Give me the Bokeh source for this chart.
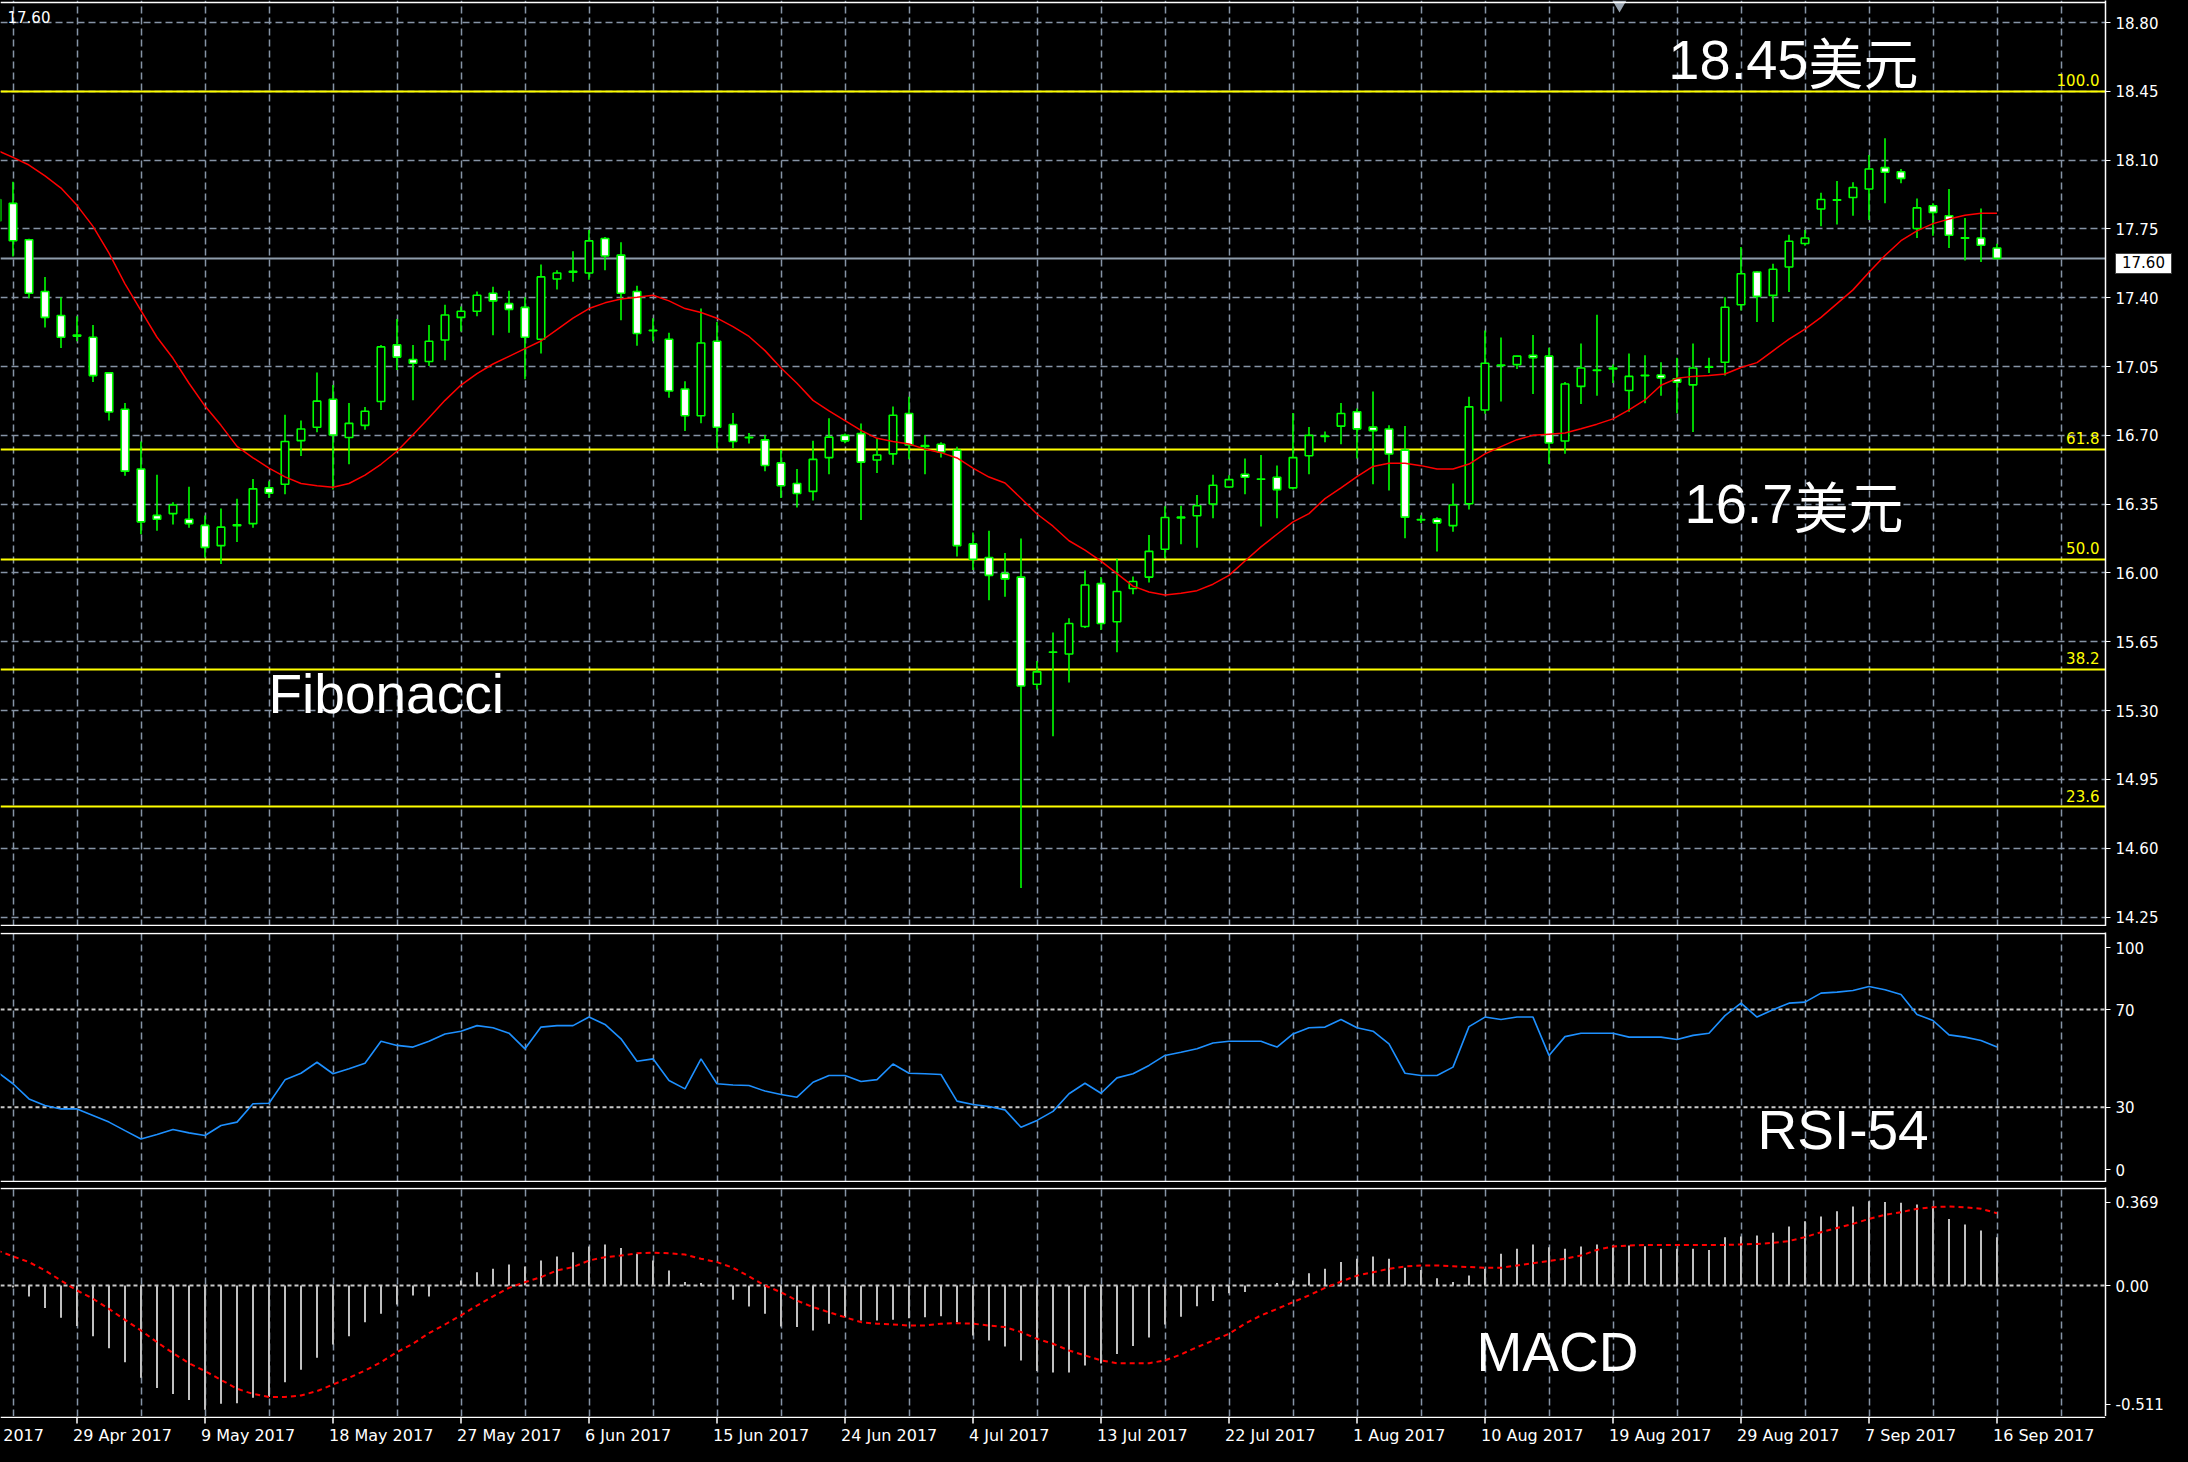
from bokeh.plotting import figure
from bokeh.layouts import column
from bokeh.models import (Range1d, FixedTicker, Grid, Span, Div,
                          PrintfTickFormatter, ColumnDataSource)
from bokeh.core.properties import value
from bokeh.embed import file_html
from bokeh.resources import INLINE

# ---------------- data (daily bars, XAG/USD) ----------------
opens = [17.79, 17.88, 17.695, 17.432, 17.31, 17.21, 17.199, 17.018, 16.833, 16.529,
         16.293, 16.302, 16.273, 16.242, 16.139, 16.24, 16.251, 16.433, 16.451, 16.673,
         16.741, 16.884, 16.689, 16.751, 16.872, 17.16, 17.086, 17.076, 17.185, 17.30,
         17.331, 17.423, 17.37, 17.351, 17.189, 17.495, 17.53, 17.526, 17.701, 17.617,
         17.432, 17.235, 17.189, 16.936, 16.80, 17.179, 16.755, 16.69, 16.677, 16.56,
         16.455, 16.415, 16.587, 16.70, 16.709, 16.575, 16.606, 16.811, 16.648, 16.655,
         16.624, 16.148, 16.079, 15.997, 15.979, 15.434, 15.597, 15.588, 15.728, 15.946,
         15.752, 15.921, 15.979, 16.121, 16.28, 16.291, 16.351, 16.437, 16.502, 16.477,
         16.487, 16.433, 16.596, 16.695, 16.747, 16.82, 16.742, 16.732, 16.625, 16.27,
         16.274, 16.241, 16.352, 16.829, 17.056, 17.06, 17.107, 17.103, 16.671, 16.949,
         17.03, 17.038, 16.928, 17.004, 17.007, 16.988, 16.957, 17.047, 17.072, 17.364,
         17.531, 17.412, 17.556, 17.676, 17.851, 17.896, 17.91, 17.953, 18.062, 18.041,
         17.752, 17.868, 17.817, 17.705, 17.704, 17.653]
highs = [17.95, 17.99, 17.70, 17.506, 17.403, 17.306, 17.261, 17.02, 16.864, 16.669,
         16.50, 16.36, 16.438, 16.293, 16.328, 16.378, 16.478, 16.466, 16.805, 16.775,
         17.02, 16.956, 16.864, 16.844, 17.16, 17.292, 17.16, 17.261, 17.364, 17.355,
         17.432, 17.456, 17.436, 17.403, 17.569, 17.54, 17.637, 17.744, 17.709, 17.682,
         17.461, 17.296, 17.222, 16.975, 17.345, 17.277, 16.814, 16.712, 16.702, 16.625,
         16.529, 16.673, 16.787, 16.71, 16.76, 16.687, 16.847, 16.896, 16.70, 16.665,
         16.642, 16.206, 16.215, 16.102, 16.175, 15.552, 15.697, 15.77, 16.012, 15.979,
         16.073, 15.982, 16.193, 16.339, 16.342, 16.397, 16.50, 16.497, 16.582, 16.60,
         16.547, 16.814, 16.742, 16.72, 16.865, 16.836, 16.923, 16.751, 16.747, 16.294,
         16.284, 16.455, 16.897, 17.234, 17.198, 17.105, 17.21, 17.146, 16.971, 17.167,
         17.313, 17.06, 17.117, 17.107, 17.072, 17.095, 17.167, 17.095, 17.403, 17.658,
         17.535, 17.573, 17.721, 17.744, 17.934, 17.994, 17.987, 18.126, 18.211, 18.055,
         17.905, 17.88, 17.953, 17.806, 17.854, 17.675]
lows = [17.70, 17.61, 17.397, 17.248, 17.144, 17.179, 16.971, 16.776, 16.494, 16.197,
        16.215, 16.246, 16.23, 16.079, 16.046, 16.157, 16.23, 16.382, 16.40, 16.595,
        16.716, 16.424, 16.553, 16.728, 16.829, 17.033, 16.878, 17.053, 17.082, 17.228,
        17.306, 17.209, 17.222, 16.985, 17.117, 17.442, 17.481, 17.491, 17.54, 17.286,
        17.156, 17.179, 16.891, 16.722, 16.761, 16.634, 16.634, 16.658, 16.517, 16.382,
        16.333, 16.369, 16.502, 16.66, 16.269, 16.509, 16.551, 16.578, 16.502, 16.587,
        16.084, 16.015, 15.861, 15.879, 14.398, 15.407, 15.17, 15.443, 15.72, 15.71,
        15.597, 15.892, 15.952, 16.075, 16.146, 16.128, 16.279, 16.433, 16.40, 16.237,
        16.279, 16.424, 16.502, 16.665, 16.655, 16.582, 16.451, 16.42, 16.177, 16.254,
        16.109, 16.21, 16.323, 16.81, 16.872, 17.038, 16.911, 16.554, 16.606, 16.86,
        16.902, 16.966, 16.82, 16.863, 16.902, 16.812, 16.717, 17.017, 17.004, 17.335,
        17.276, 17.276, 17.429, 17.664, 17.764, 17.772, 17.817, 17.795, 17.88, 17.982,
        17.704, 17.715, 17.653, 17.59, 17.582, 17.60]
closes = [17.90, 17.69, 17.423, 17.30, 17.199, 17.205, 17.004, 16.819, 16.518, 16.26,
          16.273, 16.346, 16.251, 16.13, 16.233, 16.245, 16.428, 16.406, 16.669, 16.732,
          16.874, 16.702, 16.761, 16.823, 17.15, 17.098, 17.067, 17.179, 17.312, 17.331,
          17.413, 17.384, 17.341, 17.199, 17.506, 17.526, 17.535, 17.689, 17.612, 17.423,
          17.218, 17.232, 16.926, 16.80, 17.17, 16.741, 16.669, 16.688, 16.547, 16.444,
          16.404, 16.578, 16.691, 16.672, 16.564, 16.60, 16.802, 16.651, 16.644, 16.615,
          16.139, 16.07, 15.988, 15.97, 15.425, 15.497, 15.598, 15.743, 15.939, 15.743,
          15.906, 15.957, 16.11, 16.282, 16.284, 16.342, 16.446, 16.475, 16.487, 16.478,
          16.424, 16.587, 16.70, 16.697, 16.811, 16.733, 16.724, 16.605, 16.284, 16.272,
          16.255, 16.346, 16.845, 17.067, 17.058, 17.103, 17.095, 16.661, 16.961, 17.043,
          17.032, 17.042, 17.00, 17.006, 16.992, 16.971, 17.043, 17.049, 17.352, 17.522,
          17.407, 17.545, 17.687, 17.704, 17.90, 17.898, 17.961, 18.055, 18.038, 18.007,
          17.857, 17.834, 17.718, 17.703, 17.667, 17.60]
ma_line = [18.15, 18.114, 18.075, 18.02, 17.958, 17.87, 17.763, 17.627, 17.471, 17.335,
           17.199, 17.092, 16.965, 16.849, 16.751, 16.644, 16.586, 16.533, 16.489, 16.455,
           16.444, 16.436, 16.455, 16.498, 16.553, 16.619, 16.703, 16.79, 16.878, 16.956,
           17.014, 17.063, 17.102, 17.141, 17.18, 17.238, 17.296, 17.345, 17.374, 17.394,
           17.403, 17.413, 17.384, 17.345, 17.325, 17.296, 17.253, 17.203, 17.131, 17.043,
           16.965, 16.878, 16.825, 16.775, 16.725, 16.685, 16.669, 16.656, 16.63, 16.612,
           16.585, 16.533, 16.488, 16.458, 16.38, 16.30, 16.238, 16.164, 16.116, 16.06,
           15.997, 15.933, 15.903, 15.888, 15.897, 15.91, 15.943, 15.988, 16.061, 16.133,
           16.197, 16.26, 16.302, 16.378, 16.433, 16.49, 16.542, 16.558, 16.558, 16.546,
           16.529, 16.529, 16.554, 16.606, 16.643, 16.678, 16.70, 16.706, 16.712, 16.734,
           16.757, 16.784, 16.83, 16.88, 16.955, 16.99, 17.00, 17.005, 17.012, 17.045,
           17.07, 17.13, 17.19, 17.24, 17.30, 17.37, 17.44, 17.53, 17.615, 17.69,
           17.74, 17.777, 17.80, 17.82, 17.83, 17.83]
rsi = [44.5, 39.6, 33.4, 30.7, 29.3, 29.3, 26.6, 23.9, 20.4, 17.0,
       18.8, 20.9, 19.5, 18.4, 22.5, 23.9, 31.4, 31.6, 41.2, 43.9,
       48.4, 43.7, 45.7, 48.0, 57.0, 55.3, 54.6, 57.0, 60.0, 61.1,
       63.4, 62.5, 60.3, 53.9, 62.8, 63.4, 63.4, 66.9, 63.9, 58.0,
       48.8, 49.8, 40.9, 37.5, 49.8, 39.6, 39.1, 38.9, 36.6, 35.2,
       34.1, 40.2, 43.0, 43.0, 40.5, 41.3, 47.7, 43.9, 43.7, 43.4,
       32.5, 31.1, 30.3, 28.9, 21.8, 24.6, 28.3, 35.5, 39.8, 35.7,
       42.0, 43.7, 47.1, 51.2, 52.5, 53.9, 56.3, 57.0, 57.0, 57.0,
       54.6, 60.0, 62.5, 62.8, 65.9, 62.5, 61.1, 55.9, 43.9, 43.0,
       43.0, 46.4, 63.0, 66.9, 65.9, 66.9, 66.9, 51.2, 58.9, 60.3,
       60.3, 60.3, 58.7, 58.7, 58.7, 57.7, 59.4, 60.3, 67.5, 72.6,
       66.9, 69.9, 72.6, 73.0, 76.7, 77.1, 77.8, 79.4, 78.1, 76.1,
       68.0, 65.5, 59.6, 58.7, 57.3, 54.6]
macd_hist = [0.005, -0.008, -0.042, -0.087, -0.124, -0.156, -0.195, -0.241, -0.295, -0.355,
             -0.394, -0.417, -0.44, -0.478, -0.455, -0.453, -0.432, -0.429, -0.372, -0.324,
             -0.278, -0.227, -0.195, -0.141, -0.109, -0.073, -0.038, -0.042, -0.003, 0.019,
             0.051, 0.064, 0.081, 0.073, 0.096, 0.112, 0.128, 0.15, 0.158, 0.144,
             0.122, 0.096, 0.058, 0.013, 0.01, -0.003, -0.055, -0.081, -0.109, -0.158,
             -0.16, -0.173, -0.147, -0.122, -0.135, -0.135, -0.132, -0.126, -0.122, -0.118,
             -0.141, -0.192, -0.212, -0.235, -0.288, -0.329, -0.335, -0.335, -0.308, -0.30,
             -0.263, -0.233, -0.20, -0.15, -0.12, -0.08, -0.06, -0.03, -0.025, 0.0,
             0.01, 0.019, 0.047, 0.064, 0.09, 0.103, 0.112, 0.103, 0.068, 0.06,
             0.028, 0.013, 0.038, 0.064, 0.122, 0.141, 0.158, 0.147, 0.141, 0.15,
             0.158, 0.154, 0.154, 0.151, 0.141, 0.141, 0.141, 0.137, 0.186, 0.188,
             0.192, 0.203, 0.227, 0.247, 0.265, 0.286, 0.304, 0.324, 0.321, 0.318,
             0.312, 0.304, 0.256, 0.235, 0.212, 0.186]
macd_signal = [0.135, 0.112, 0.09, 0.058, 0.019, -0.019, -0.051, -0.09, -0.132, -0.173,
               -0.218, -0.26, -0.299, -0.329, -0.363, -0.397, -0.417, -0.429, -0.429, -0.423,
               -0.406, -0.381, -0.355, -0.327, -0.295, -0.256, -0.224, -0.183, -0.15, -0.115,
               -0.077, -0.042, -0.009, 0.013, 0.032, 0.058, 0.071, 0.096, 0.109, 0.115,
               0.124, 0.126, 0.124, 0.119, 0.103, 0.09, 0.068, 0.035, 0.0, -0.026,
               -0.058, -0.083, -0.103, -0.122, -0.141, -0.147, -0.15, -0.154, -0.154, -0.147,
               -0.145, -0.147, -0.154, -0.16, -0.179, -0.205, -0.224, -0.25, -0.269, -0.288,
               -0.299, -0.299, -0.299, -0.288, -0.265, -0.237, -0.212, -0.186, -0.147, -0.115,
               -0.09, -0.064, -0.038, -0.009, 0.015, 0.038, 0.051, 0.064, 0.073, 0.077,
               0.077, 0.074, 0.071, 0.068, 0.068, 0.077, 0.086, 0.094, 0.103, 0.115,
               0.137, 0.15, 0.154, 0.156, 0.156, 0.156, 0.156, 0.156, 0.156, 0.158,
               0.16, 0.164, 0.171, 0.186, 0.205, 0.221, 0.237, 0.256, 0.272, 0.282,
               0.295, 0.301, 0.304, 0.301, 0.295, 0.278]

price_ticks = [18.80, 18.45, 18.10, 17.75, 17.40, 17.05, 16.70, 16.35,
               16.00, 15.65, 15.30, 14.95, 14.60, 14.25]
fib_levels = ["100.0", "61.8", "50.0", "38.2", "23.6"]
fib_prices = [18.45, 16.63, 16.07, 15.51, 14.81]
last_price = 17.60
rsi_levels = [70, 30]
rsi_axis_labels = ["100", "70", "30", "0"]
macd_axis_labels = ["0.369", "0.00", "-0.511"]
date_bars = [-3, 5, 13, 21, 29, 37, 45, 53, 61, 69, 77, 85, 93, 101, 109, 117, 125]
date_labels = ["20 Apr 2017", "29 Apr 2017", "9 May 2017", "18 May 2017", "27 May 2017",
               "6 Jun 2017", "15 Jun 2017", "24 Jun 2017", "4 Jul 2017", "13 Jul 2017",
               "22 Jul 2017", "1 Aug 2017", "10 Aug 2017", "19 Aug 2017", "29 Aug 2017",
               "7 Sep 2017", "16 Sep 2017"]

# ---------------- geometry / styling ----------------
N = len(opens)
bars = list(range(N))
BAR_PX = 16.0
TOTAL_W = 2188
RIGHT_W = 83
FRAME_W = TOTAL_W - RIGHT_W
X0 = 3.5 / BAR_PX
X_END = X0 + FRAME_W / BAR_PX
xr = Range1d(X0, X_END)

MAIN_PX = 196.6     # px per 1.0 price
RSI_PX = 2.4425     # px per RSI point
MACD_PX = 260.0     # px per 1.0 MACD
BASE_FIX = 0.42     # alphabetic-baseline correction (fraction of font size)

def ref_x(px):
    return (px + 3.5) / BAR_PX

def main_y(py):
    return 18.80 - (py - 22) / MAIN_PX

def rsi_y(py):
    return 70 - (py - 1009) / RSI_PX

def macd_y(py):
    return (1285 - py) / MACD_PX

GRID_COL = "#8694a6"
GRID_DASH = "7 4"
GREEN = "#00ff00"
FONT = value("DejaVu Sans")
BIG = value("Liberation Sans")
CJK = value("Noto Sans CJK SC")
grid_bars = list(range(1, int(X_END) + 4, 4))


def style_axis(ax):
    ax.axis_line_color = "white"
    ax.axis_line_width = 1.5
    ax.major_tick_line_color = "white"
    ax.major_tick_out = 5
    ax.major_tick_in = 0
    ax.minor_tick_line_color = None
    ax.major_label_text_color = "white"
    ax.major_label_text_font = "DejaVu Sans"
    ax.major_label_text_font_size = "15px"
    ax.major_label_standoff = 5


def make_fig(height, y0, y1, top_border):
    p = figure(width=TOTAL_W, height=height, x_range=xr, y_range=Range1d(y0, y1),
               output_backend="svg", toolbar_location=None,
               x_axis_location=None, y_axis_location="right",
               min_border_left=0, min_border_right=RIGHT_W,
               min_border_top=top_border, min_border_bottom=0,
               background_fill_color="black", border_fill_color="black",
               outline_line_color=None)
    p.grid.visible = False
    style_axis(p.yaxis[0])
    p.add_layout(Grid(dimension=0, ticker=FixedTicker(ticks=grid_bars),
                      grid_line_color=GRID_COL, grid_line_dash=GRID_DASH,
                      grid_line_width=1.5))
    return p


def big_text(p, x, y, txt, font, align, size=55):
    p.text(x=[x], y=[y], text=[txt], text_align=align, text_baseline="alphabetic",
           y_offset=-BASE_FIX * size, text_color="white", text_font=font,
           text_font_size="%dpx" % size)


# ---------------- main price panel ----------------
pm = make_fig(926, main_y(926), main_y(0), 0)
pm.add_layout(Grid(dimension=1, ticker=FixedTicker(ticks=price_ticks),
                   grid_line_color=GRID_COL, grid_line_dash=GRID_DASH, grid_line_width=1.5))
pm.yaxis[0].ticker = FixedTicker(ticks=price_ticks)
pm.yaxis[0].formatter = PrintfTickFormatter(format="%.2f")

pm.hspan(y=fib_prices, line_color="#ffff00", line_width=2)
pm.hspan(y=[last_price], line_color="#8e9cab", line_width=1.8)

src = ColumnDataSource(dict(
    x=bars, high=highs, low=lows,
    top=[max(o, c) for o, c in zip(opens, closes)],
    bottom=[min(o, c) for o, c in zip(opens, closes)],
    fill=["black" if c >= o else "white" for o, c in zip(opens, closes)],
))
pm.segment(x0="x", y0="low", x1="x", y1="high", source=src, line_color=GREEN, line_width=1.6)
pm.vbar(x="x", width=0.47, top="top", bottom="bottom", source=src,
        fill_color="fill", line_color=GREEN, line_width=1.6)
pm.line(bars, ma_line, line_color="#ff0000", line_width=1.5)

pm.text(x=[X_END] * len(fib_levels), y=fib_prices, text=fib_levels,
        text_align="right", text_baseline="alphabetic", x_offset=-6,
        y_offset=-5 - BASE_FIX * 15,
        text_color="#ffff00", text_font=FONT, text_font_size="15px")

big_text(pm, ref_x(1808), main_y(83), "18.45", BIG, "right", 56)
big_text(pm, ref_x(1808), main_y(83), "美元", CJK, "left", 55)
big_text(pm, ref_x(1793), main_y(527), "16.7", BIG, "right", 56)
big_text(pm, ref_x(1793), main_y(527), "美元", CJK, "left", 55)
big_text(pm, ref_x(268), main_y(717), "Fibonacci", BIG, "left", 55)

pm.text(x=[X0], y=[main_y(10)], text=["%.2f" % last_price], text_align="left",
        x_offset=7, text_baseline="top", text_color="white", text_font=FONT,
        text_font_size="15px")
pm.scatter(x=[ref_x(1619)], y=[main_y(4)], marker="inverted_triangle", size=14,
           fill_color="#9aa5b1", line_color=None)
pm.add_layout(Span(location=main_y(2), dimension="width", line_color="white", line_width=1.5))
pm.add_layout(Span(location=main_y(925), dimension="width", line_color="white", line_width=1.5))

# ---------------- RSI panel ----------------
pr = make_fig(256, rsi_y(1182), rsi_y(932), 6)
for lv in rsi_levels:
    pr.add_layout(Span(location=lv, dimension="width", line_color="#c8c8c8",
                       line_dash="4 3", line_width=2, level="underlay"))
pr.line(bars, rsi, line_color="#1e90ff", line_width=1.6)
rsi_tick_pos = [round(100 - 11.5 / RSI_PX, 2), 70, 30, round(10.7 / RSI_PX, 2)]
pr.yaxis[0].ticker = FixedTicker(ticks=rsi_tick_pos)
pr.yaxis[0].major_label_overrides = dict(zip(rsi_tick_pos, rsi_axis_labels))
big_text(pr, ref_x(1757), rsi_y(1153), "RSI-54", BIG, "left", 55)
pr.add_layout(Span(location=rsi_y(933), dimension="width", line_color="white", line_width=1.5))
pr.add_layout(Span(location=rsi_y(1181), dimension="width", line_color="white", line_width=1.5))

# ---------------- MACD panel ----------------
pd_ = make_fig(234, macd_y(1416), macd_y(1187), 5)
pd_.add_layout(Span(location=0, dimension="width", line_color="#c8c8c8",
                    line_dash="4 3", line_width=2, level="underlay"))
pd_.segment(x0=bars, y0=[0] * N, x1=bars, y1=macd_hist, line_color="#c0c0c0", line_width=2)
pd_.line(bars, macd_signal, line_color="#ff0000", line_width=2, line_dash="5 4")
macd_tick_pos = [round(0.369 - 12.7 / MACD_PX, 3), 0.0, round(-0.511 + 14 / MACD_PX, 3)]
pd_.yaxis[0].ticker = FixedTicker(ticks=macd_tick_pos)
pd_.yaxis[0].major_label_overrides = dict(zip(macd_tick_pos, macd_axis_labels))
big_text(pd_, ref_x(1476), macd_y(1375), "MACD", BIG, "left", 55)
pd_.add_layout(Span(location=macd_y(1188), dimension="width", line_color="white", line_width=1.5))

# ---------------- date strip (shares the bar scale) ----------------
ps = figure(width=TOTAL_W, height=46, x_range=xr,
            y_range=Range1d(46, 0), output_backend="svg", toolbar_location=None,
            x_axis_location=None, y_axis_location=None,
            min_border_left=0, min_border_right=RIGHT_W, min_border_top=0, min_border_bottom=0,
            background_fill_color="black", border_fill_color="black", outline_line_color=None)
ps.grid.visible = False
ps.segment(x0=[X0], y0=[0.8], x1=[X_END], y1=[0.8], line_color="white", line_width=1.5)
ps.segment(x0=date_bars, y0=[0] * len(date_bars), x1=date_bars, y1=[7] * len(date_bars),
           line_color="white", line_width=1.5)
ps.text(x=date_bars, y=[26] * len(date_bars), text=date_labels, text_align="left",
        text_baseline="alphabetic", x_offset=-4, y_offset=-BASE_FIX * 16,
        text_color="white", text_font=FONT, text_font_size="16px")

# current-price tag on the price scale (MT4 style box)
price_tag = Div(text="%.2f" % last_price, width=57, height=21, styles={
    "position": "absolute", "left": "2110px", "top": "248px",
    "background-color": "#ffffff", "color": "#000000",
    "font-family": "DejaVu Sans", "font-size": "15px", "line-height": "19px",
    "text-align": "center", "border": "1px solid #404040",
    "box-sizing": "border-box", "z-index": "10", "overflow": "hidden"})
# bottom edge of the terminal window
bottom_rule = Div(text="", width=TOTAL_W, height=2, styles={
    "position": "absolute", "left": "0px", "top": "1457px",
    "background-color": "#d9d9d9", "z-index": "5"})

layout_kwargs = {}
try:
    from bokeh.models import GlobalInlineStyleSheet
    layout_kwargs["stylesheets"] = [GlobalInlineStyleSheet(css="body{background-color:#000000;}")]
except Exception:
    pass

lay = column(pm, pr, pd_, ps, price_tag, bottom_rule, spacing=0, **layout_kwargs)
open("out.html", "w").write(file_html(lay, INLINE))
